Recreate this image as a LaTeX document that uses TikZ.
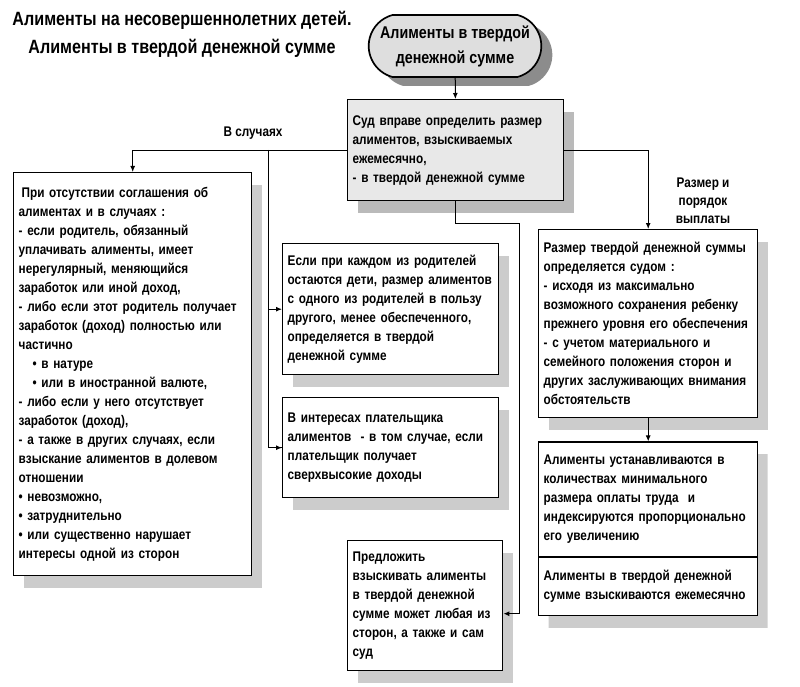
\documentclass[tikz,border=0pt]{standalone}
\usepackage{fontspec}
\setmainfont{Liberation Sans}[FakeStretch=0.84]
\usepackage{tikz}
\usetikzlibrary{shapes.misc, shapes.multipart, shadows, arrows.meta, positioning}
\definecolor{courtgray}{HTML}{E8E8E8}
\definecolor{ovalgray}{HTML}{DEDEDE}

\begin{document}
\begin{tikzpicture}[x=1pt, y=-1pt,
  box/.style={rectangle, draw, line width=1.4pt, fill=white, anchor=north west, align=left,
    inner xsep=5pt, inner ysep=3pt, font=\bfseries\fontsize{14}{19}\selectfont,
    drop shadow={shadow xshift=10pt, shadow yshift=-12pt, fill=black!20, opacity=1}},
  lbl/.style={align=center, font=\bfseries\fontsize{14}{18}\selectfont},
  arrow/.style={-{Latex[length=6pt, width=5pt]}, line width=1pt},
  link/.style={line width=1pt}
]
  \useasboundingbox (0,0) rectangle (800,687);

  % title
  \node[align=center, font=\bfseries\fontsize{19.2}{28}\selectfont] (title) at (182,34)
    {Алименты на несовершеннолетних детей.\\Алименты в твердой денежной сумме};

  % top of the scheme
  \node[rounded rectangle, rounded rectangle arc length=150, draw, line width=1.7pt, fill=ovalgray,
    minimum width=165pt, minimum height=62pt, inner xsep=4pt,
    align=center, font=\bfseries\fontsize{17}{25}\selectfont,
    drop shadow={shadow xshift=11pt, shadow yshift=-9pt, fill=black!45, opacity=1}] (oval) at (455,46)
    {Алименты в твердой\\денежной сумме};
  \node[box, fill=courtgray, minimum width=216pt, text width=206pt, minimum height=101pt,
    drop shadow={shadow xshift=10pt, shadow yshift=-12pt, fill=black!27, opacity=1}] (court) at (347,99)
    {Суд вправе определить размер\\алиментов, взыскиваемых\\ежемесячно,\\- в твердой денежной сумме};

  % cases
  \node[box, minimum width=238pt, text width=228pt, minimum height=403pt] (cases) at (13,172)
    {\hspace*{3pt}При отсутствии соглашения об\\алиментах и в случаях :\\- если родитель, обязанный\\уплачивать алименты, имеет\\нерегулярный, меняющийся\\заработок или иной доход,\\- либо если этот родитель получает\\заработок (доход) полностью или\\частично\\\hspace*{14pt}• в натуре\\\hspace*{14pt}• или в иностранной валюте,\\- либо если у него отсутствует\\заработок (доход),\\- а также в других случаях, если\\взыскание алиментов в долевом\\отношении\\• невозможно,\\• затруднительно\\• или существенно нарушает\\интересы одной из сторон};
  \node[box, minimum width=216pt, text width=206pt, minimum height=131pt] (parents) at (282,243)
    {Если при каждом из родителей\\остаются дети, размер алиментов\\с одного из родителей в пользу\\другого, менее обеспеченного,\\определяется в твердой\\денежной сумме};
  \node[box, minimum width=216pt, text width=206pt, minimum height=100pt] (payer) at (282,397)
    {В интересах плательщика\\алиментов\ \ - в том случае, если\\плательщик получает\\сверхвысокие доходы};
  \node[box, minimum width=155pt, text width=145pt, minimum height=130pt] (offer) at (347,540)
    {Предложить\\взыскивать алименты\\в твердой денежной\\сумме может любая из\\сторон, а также и сам\\суд};

  % size and order
  \node[box, minimum width=219pt, text width=209pt, minimum height=188pt] (size) at (538,229)
    {Размер твердой денежной суммы\\определяется судом :\\- исходя из максимально\\возможного сохранения ребенку\\прежнего уровня его обеспечения\\- с учетом материального и\\семейного положения сторон и\\других заслуживающих внимания\\обстоятельств};
  \node[box, rectangle split, rectangle split parts=2, text width=209pt, inner ysep=12.5pt,
    below=23pt of size] (mrot)
    {Алименты устанавливаются в\\количествах минимального\\размера оплаты труда\ \ и\\индексируются пропорционально\\его увеличению
    \nodepart{two}Алименты в твердой денежной\\сумме взыскиваются ежемесячно};

  \node[lbl] (inCases) at (253,133) {В случаях};
  \node[lbl] (sizeLbl) at (703,201) {Размер и\\порядок\\выплаты};

  % connectors
  \coordinate (split) at (268,150);
  \coordinate (bend) at (519,223);
  \draw[arrow] (oval) -- (court);
  \draw[arrow] (court.west) -| (cases.north);
  \draw[link] (split) |- (payer.west);
  \draw[arrow] (split |- parents.west) -- (parents.west);
  \draw[arrow] (split |- payer.west) -- (payer.west);
  \draw[arrow] (court.east) -| (size.north);
  \draw[arrow] (court.south) |- (bend) |- ([yshift=-8pt]offer.east);
  \draw[arrow] (size) -- (mrot.north);
\end{tikzpicture}
\end{document}
